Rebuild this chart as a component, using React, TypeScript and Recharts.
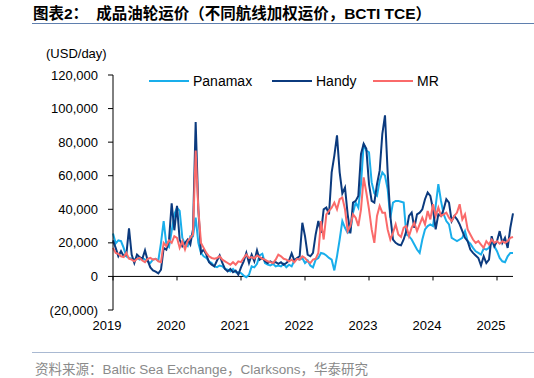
import { LineChart, Line, XAxis, YAxis, ReferenceLine } from 'recharts';

// semi-monthly readings, values in USD '000/day, starting Jan 2019
const startYear = 2019;
const stepsPerYear = 24;

const panamax = [
  25.6, 19.7, 21.5, 21, 17, 12, 11, 10.5, 10, 11, 10, 11, 10, 9, 8, 10, 10.5, 9.5, 20, 33, 19, 17.5, 27, 37,
  41, 39, 23, 19, 18, 24, 24, 35, 20, 14, 12, 11, 9, 8, 6, 5.5, 6.5, 6, 4.5, 4, 3, 4.5, 2.5, 2.5,
  2, 0.5, -0.5, 1, 6, 5.4, 7.5, 12.5, 13.5, 8, 7, 6.5, 7.5, 6, 6.5, 6, 7.5, 5.5, 7, 6, 9.5, 10.5, 10, 11,
  8, 9.5, 6.5, 5.4, 10, 11, 14, 13.5, 12.5, 11, 10, 3.6, 12, 22, 33, 29, 26, 27, 38, 44, 41, 55, 79, 75,
  74, 56, 49.5, 48, 57, 62, 60, 52, 35, 44, 45, 45, 44.5, 44, 25, 24, 22, 19, 16, 14, 22, 28, 30, 31,
  30, 42, 55, 45, 37, 33, 31, 23, 22, 21, 22, 23, 27, 21, 19.5, 17, 15, 14, 13, 16.6, 16, 17, 21, 18,
  15, 11, 9, 8.5, 12, 14, 14,
];

const handy = [
  21.5, 17, 12, 15, 12, 13, 28.6, 13, 8, 13, 11.5, 10.5, 15.5, 9.5, 5.4, 3.6, 2.8, 1.8, 4, 17, 16, 21.5, 43.6, 27.5,
  42, 22, 18, 20, 22, 19, 28, 92, 40, 14, 16, 13, 8.5, 7, 6, 9.5, 12.5, 8, 4.5, 3, 4.5, 2.5, 3.5, 1,
  5.4, 9, 14, 8, 13, 9, 15.5, 10, 11, 9, 8, 9, 8, 8.5, 7.5, 8.5, 7, 8, 9.5, 13.7, 9.5, 11, 12, 32,
  24, 13, 12, 14, 25, 33, 26, 40, 41, 37, 62, 72, 84, 62, 49.5, 53, 37, 25.6, 44, 45, 48, 73, 79, 76,
  55, 45, 44, 55, 63, 85, 96, 62, 36, 22, 20, 19, 18.5, 22, 27, 36, 38, 29, 37, 38, 40, 46, 50, 48,
  40, 28, 37, 36, 40, 46, 44, 33, 36, 34, 31, 27, 23, 21, 16, 14, 12.5, 11, 6.5, 12, 8, 10, 24, 18,
  21, 27, 20, 23, 17, 29, 37.6,
];

const mr = [
  17, 14, 13.5, 12, 11.5, 14, 10.5, 10, 9, 10.5, 11, 9.5, 8.5, 10.5, 11, 10, 10.5, 9, 8.5, 20, 18, 21.5, 20, 24,
  23, 17, 21, 16, 21, 23, 25, 75, 40, 20, 17, 14, 12, 11, 10.5, 11, 12, 10, 9, 8, 7, 8.5, 7, 9,
  8.5, 11, 13, 11, 11.5, 10.7, 12.5, 11.5, 10.5, 10, 9, 8.5, 8, 10, 13, 12, 10.5, 10, 9, 10, 8.5, 10.5, 10, 12,
  11, 9, 8, 10, 10.5, 14, 33, 22, 37, 39, 41, 44, 40, 46, 47, 40, 27, 30, 37, 35, 30, 40, 59, 50,
  40, 28, 20, 36, 42, 38, 38, 28, 22, 26, 31, 25, 23.5, 29, 30, 24, 29, 32, 27, 31, 35, 31, 39, 34,
  43, 36, 41, 36, 37, 38, 35, 33, 36, 38, 43, 34, 37, 28, 25, 22, 20, 21, 19, 17, 21, 19, 22, 20,
  21, 19.5, 21, 20, 21, 23, 23.5,
];

const yearTicks = [2019, 2020, 2021, 2022, 2023, 2024, 2025];
const valueTicks = [-20000, 0, 20000, 40000, 60000, 80000, 100000, 120000];

const series = [
  { key: 'panamax', name: 'Panamax', color: '#19aeeb' },
  { key: 'handy', name: 'Handy', color: '#0b3a7e' },
  { key: 'mr', name: 'MR', color: '#fa6a6a' },
];

const data = panamax.map((_, i) => ({
  t: startYear + i / stepsPerYear,
  panamax: panamax[i] * 1000,
  handy: handy[i] * 1000,
  mr: mr[i] * 1000,
}));

const font = '"Liberation Sans", Arial, "Noto Sans CJK SC", sans-serif';
const cjk = '"Liberation Sans", "Noto Sans CJK SC", sans-serif';

const fmt = (v: number) => {
  const s = Math.abs(v).toLocaleString('en-US');
  return v < 0 ? `(${s})` : s;
};

// left offsets of the legend entries
const legendLeft = [149, 272, 373];

export default function App() {
  return (
    <div style={{ position: 'absolute', left: 0, top: 0, width: 534, height: 378, background: '#fff', fontFamily: font }}>
      <div style={{ position: 'absolute', left: 33, top: 4, fontSize: 15.5, fontWeight: 'bold', fontFamily: cjk, whiteSpace: 'nowrap', lineHeight: '20px', color: '#000' }}>
        <span style={{ marginRight: 8 }}>图表2：</span>成品油轮运价（不同航线加权运价，BCTI TCE）
      </div>
      <div style={{ position: 'absolute', left: 32, right: 0, top: 23, height: 1, background: '#5f7fae' }} />

      <div style={{ position: 'absolute', left: 46, top: 46, fontSize: 13, color: '#000' }}>(USD/day)</div>

      <LineChart width={534} height={378} data={data} margin={{ top: 75, right: 21, bottom: 38, left: 53 }}>
        <XAxis
          type="number"
          dataKey="t"
          domain={[2019, 2025.25]}
          ticks={yearTicks}
          axisLine={false}
          tickLine={false}
          tickSize={0}
          tickMargin={11}
          height={30}
          tick={{ fontSize: 13, fill: '#000', fontFamily: font, dx: -6 }}
        />
        <YAxis
          domain={[-20000, 120000]}
          ticks={valueTicks}
          tickFormatter={fmt}
          width={60}
          tickSize={5}
          tickMargin={10}
          stroke="#000"
          tick={{ fontSize: 13, fill: '#000', fontFamily: font }}
          interval={0}
        />
        <ReferenceLine y={0} stroke="#000" strokeWidth={1} />
        {yearTicks.map((yr) => (
          <ReferenceLine key={yr} segment={[{ x: yr, y: 0 }, { x: yr, y: -2400 }]} stroke="#000" />
        ))}
        {series.map((s) => (
          <Line
            key={s.key}
            type="linear"
            dataKey={s.key}
            stroke={s.color}
            strokeWidth={2}
            dot={false}
            isAnimationActive={false}
          />
        ))}
      </LineChart>

      {series.map((s, i) => (
        <div key={s.key} style={{ position: 'absolute', left: legendLeft[i], top: 73, display: 'flex', alignItems: 'center', fontSize: 14, color: '#000' }}>
          <span style={{ display: 'inline-block', width: 40, height: 2, background: s.color, marginRight: 4 }} />
          {s.name}
        </div>
      ))}

      <div style={{ position: 'absolute', left: 32, right: 0, top: 352, height: 1, background: '#a9b9d2' }} />
      <div style={{ position: 'absolute', left: 35, top: 358, fontSize: 13.5, color: '#8a8a8a', fontFamily: cjk, whiteSpace: 'nowrap' }}>
        资料来源：Baltic Sea Exchange，Clarksons，华泰研究
      </div>
    </div>
  );
}
